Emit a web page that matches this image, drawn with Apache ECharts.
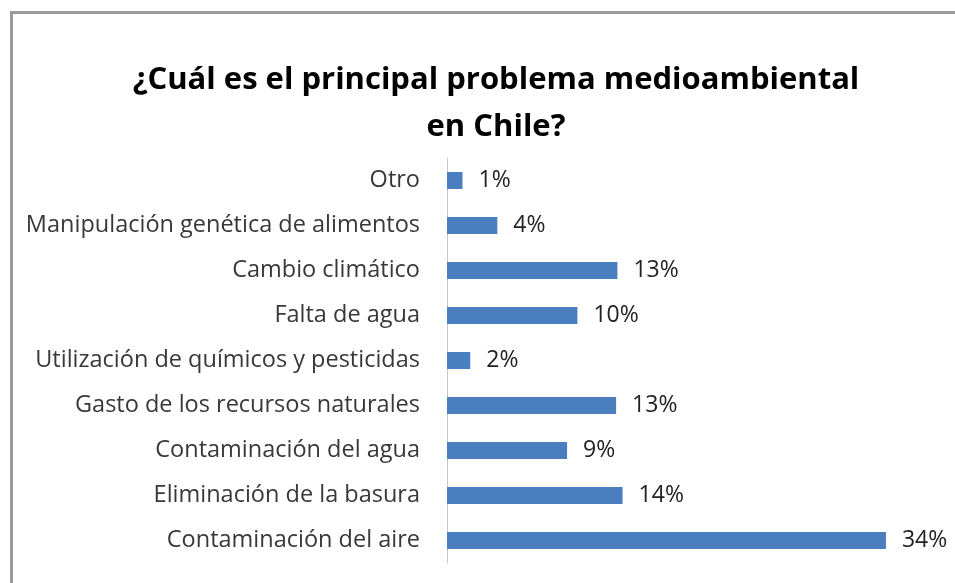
<!DOCTYPE html>
<html>
<head>
<meta charset="utf-8">
<script src="https://cdn.jsdelivr.net/npm/echarts@6/dist/echarts.min.js"></script>
<style>
html,body{margin:0;padding:0;background:#fff;}
#chart{width:955px;height:583px;}
</style>
</head>
<body>
<div id="chart"></div>
<script>
const titleText = '¿Cuál es el principal problema medioambiental\nen Chile?';
const categories = [
  'Contaminación del aire',
  'Eliminación de la basura',
  'Contaminación del agua',
  'Gasto de los recursos naturales',
  'Utilización de químicos y pesticidas',
  'Falta de agua',
  'Cambio climático',
  'Manipulación genética de alimentos',
  'Otro'
];
const values = [34.0, 13.6, 9.3, 13.1, 1.8, 10.1, 13.2, 3.9, 1.2];
const xMax = 36;

const chart = echarts.init(document.getElementById('chart'), null, {renderer: 'canvas'});
chart.setOption({
  backgroundColor: '#ffffff',
  animation: false,
  title: {
    text: titleText,
    left: 491,
    textAlign: 'center',
    top: 52,
    textStyle: {
      fontFamily: 'Open Sans',
      fontWeight: 'bold',
      fontSize: 31,
      lineHeight: 47,
      color: '#000000'
    }
  },
  graphic: [
    {type: 'rect', shape: {x: 10, y: 11, width: 945, height: 3}, style: {fill: '#9a9a9a'}, silent: true},
    {type: 'rect', shape: {x: 10, y: 11, width: 3, height: 572}, style: {fill: '#9a9a9a'}, silent: true}
  ],
  grid: {left: 447, top: 158, bottom: 20, width: xMax * 12.91, containLabel: false},
  xAxis: {
    type: 'value',
    min: 0,
    max: xMax,
    show: false
  },
  yAxis: {
    type: 'category',
    data: categories,
    axisLine: {show: true, lineStyle: {color: '#c8c8c8', width: 1}},
    axisTick: {show: false},
    axisLabel: {
      margin: 27,
      fontFamily: 'Open Sans',
      fontSize: 23.5,
      color: '#383838'
    }
  },
  series: [{
    type: 'bar',
    data: values,
    barWidth: 17,
    itemStyle: {color: '#4a7ebf'},
    label: {
      show: true,
      position: 'right',
      distance: 16,
      fontFamily: 'Open Sans',
      fontSize: 23,
      color: '#222222',
      formatter: p => Math.round(p.value) + '%'
    }
  }]
});
</script>
</body>
</html>
